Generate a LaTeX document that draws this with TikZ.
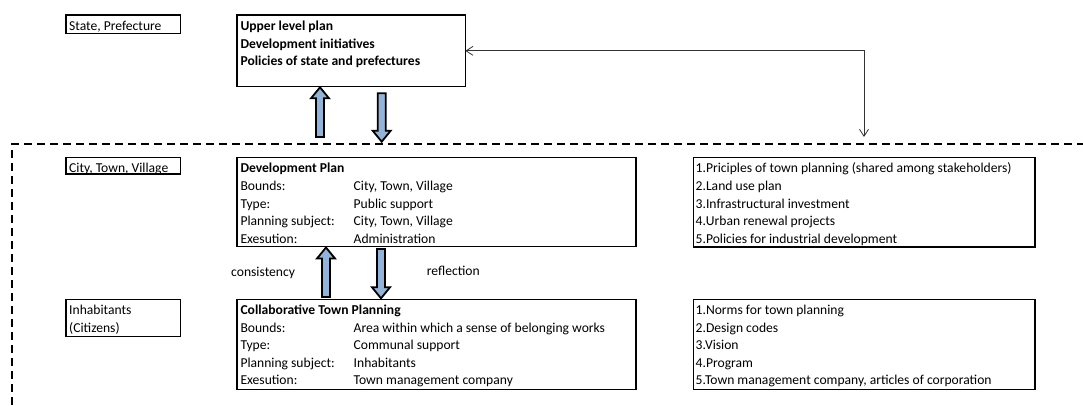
\documentclass[tikz,border=0pt]{standalone}
\usepackage{fontspec}
\setmainfont{Carlito}
\usetikzlibrary{calc,arrows.meta}
\definecolor{arrowblue}{RGB}{149,179,215}
\newcommand\hollowarrow[3]{%
  \draw[barrow] let \p1=#1, \p2=#2 in
  ({\x1-4pt},\y1) -- ({\x1-4pt},{\y2-(#3)*11pt}) -- ({\x1-9pt},{\y2-(#3)*11pt}) -- (\x1,\y2)
  -- ({\x1+9pt},{\y2-(#3)*11pt}) -- ({\x1+4pt},{\y2-(#3)*11pt}) -- ({\x1+4pt},\y1) -- cycle;}
\begin{document}
\begin{tikzpicture}[x=1pt,y=-1pt,
  box/.style={draw, line width=1.1pt, inner sep=0pt, outer sep=0pt, anchor=north west},
  txt/.style={anchor=base west, inner sep=0pt, font=\fontsize{13.6}{17.6}\selectfont},
  bold/.style={txt, font=\fontsize{13.6}{17.6}\selectfont\bfseries},
  barrow/.style={draw=black, line width=1.8pt, fill=arrowblue, line join=miter},
  thinarrow/.style={draw=black!80, line width=0.8pt,
    {Straight Barb[length=7pt,width=9pt]}-{Straight Barb[length=7pt,width=9pt]}},
  dashline/.style={draw=black, line width=2pt, dash pattern=on 8pt off 5pt}]
\useasboundingbox (0,0) rectangle (1083,405);

% left labels
\node[box, minimum width=114.3pt, minimum height=18.3pt] (state) at (66,15) {};
\node[txt] (stateT) at (69,30.3) {State, Prefecture};
\node[box, minimum width=114.3pt, minimum height=16.3pt] (city) at (66,157.7) {};
\node[txt] (cityT) at (69,172.5) {City, Town, Village};
\node[box, minimum width=114.3pt, minimum height=37.4pt] (inhab) at (66,299.3) {};
\node[txt] (inhabT1) at (69,314.5) {Inhabitants};
\node[txt] (inhabT2) at (69,332.1) {(Citizens)};

% upper box
\node[box, minimum width=228.3pt, minimum height=71.7pt] (upper) at (237,15) {};
\node[bold] (up1) at (240.3,30.5) {Upper level plan};
\node[bold] (up2) at (240.3,48.1) {Development initiatives};
\node[bold] (up3) at (240.3,65.7) {Policies of state and prefectures};

% development plan
\node[box, minimum width=399pt, minimum height=89pt] (dev) at (237,157.7) {};
\node[bold] (dv0) at (240.3,172.8) {Development Plan};
\node[txt] (dv1) at (240.3,190.4) {Bounds:};
\node[txt] (dv1v) at (353.5,190.4) {City, Town, Village};
\node[txt] (dv2) at (240.3,208.0) {Type:};
\node[txt] (dv2v) at (353.5,208.0) {Public support};
\node[txt] (dv3) at (240.3,225.6) {Planning subject:};
\node[txt] (dv3v) at (353.5,225.6) {City, Town, Village};
\node[txt] (dv4) at (240.3,243.2) {Exesution:};
\node[txt] (dv4v) at (353.5,243.2) {Administration};

% collaborative
\node[box, minimum width=399pt, minimum height=90pt] (collab) at (237,299.3) {};
\node[bold] (cl0) at (240.3,314.5) {Collaborative Town Planning};
\node[txt] (cl1) at (240.3,332.1) {Bounds:};
\node[txt] (cl1v) at (353.5,332.1) {Area within which a sense of belonging works};
\node[txt] (cl2) at (240.3,349.7) {Type:};
\node[txt] (cl2v) at (353.5,349.7) {Communal support};
\node[txt] (cl3) at (240.3,367.3) {Planning subject:};
\node[txt] (cl3v) at (353.5,367.3) {Inhabitants};
\node[txt] (cl4) at (240.3,384.9) {Exesution:};
\node[txt] (cl4v) at (353.5,384.9) {Town management company};

% right boxes
\node[box, minimum width=341.7pt, minimum height=89.3pt] (right1) at (693.3,157.7) {};
\node[txt] (r11) at (695.5,172.8) {1.Priciples of town planning (shared among stakeholders)};
\node[txt] (r12) at (695.5,190.4) {2.Land use plan};
\node[txt] (r13) at (695.5,208.0) {3.Infrastructural investment};
\node[txt] (r14) at (695.5,225.6) {4.Urban renewal projects};
\node[txt] (r15) at (695.5,243.2) {5.Policies for industrial development};

\node[box, minimum width=341.7pt, minimum height=90pt] (right2) at (693.3,299.3) {};
\node[txt] (r21) at (695.5,314.5) {1.Norms for town planning};
\node[txt] (r22) at (695.5,332.1) {2.Design codes};
\node[txt] (r23) at (695.5,349.7) {3.Vision};
\node[txt] (r24) at (695.5,367.3) {4.Program};
\node[txt] (r25) at (695.5,384.9) {5.Town management company, articles of corporation};

% middle labels
\node[txt] (cons) at (231,276) {consistency};
\node[txt] (refl) at (426.7,275) {reflection};

% dashed boundary
\coordinate (dashBL) at (12,405);
\coordinate (dashTL) at (12,144);
\coordinate (dashTR) at (1083,144);
\draw[dashline] (dashBL) -- (dashTL) -- (dashTR);

% block arrows
\coordinate (a1tail) at (320,137);
\coordinate (a1tip) at (320,87.3);
\coordinate (a2tail) at (381.7,93.3);
\coordinate (a2tip) at (381.7,141.7);
\coordinate (a3tail) at (326,297);
\coordinate (a3tip) at (326,247.5);
\coordinate (a4tail) at (381,249);
\coordinate (a4tip) at (381,298.3);
\hollowarrow{(a1tail)}{(a1tip)}{1}
\hollowarrow{(a2tail)}{(a2tip)}{-1}
\hollowarrow{(a3tail)}{(a3tip)}{1}
\hollowarrow{(a4tail)}{(a4tip)}{-1}

% thin feedback arrow
\coordinate (fbEnd) at (864,137);
\draw[thinarrow] (upper.east) -| (fbEnd);
\end{tikzpicture}
\end{document}
